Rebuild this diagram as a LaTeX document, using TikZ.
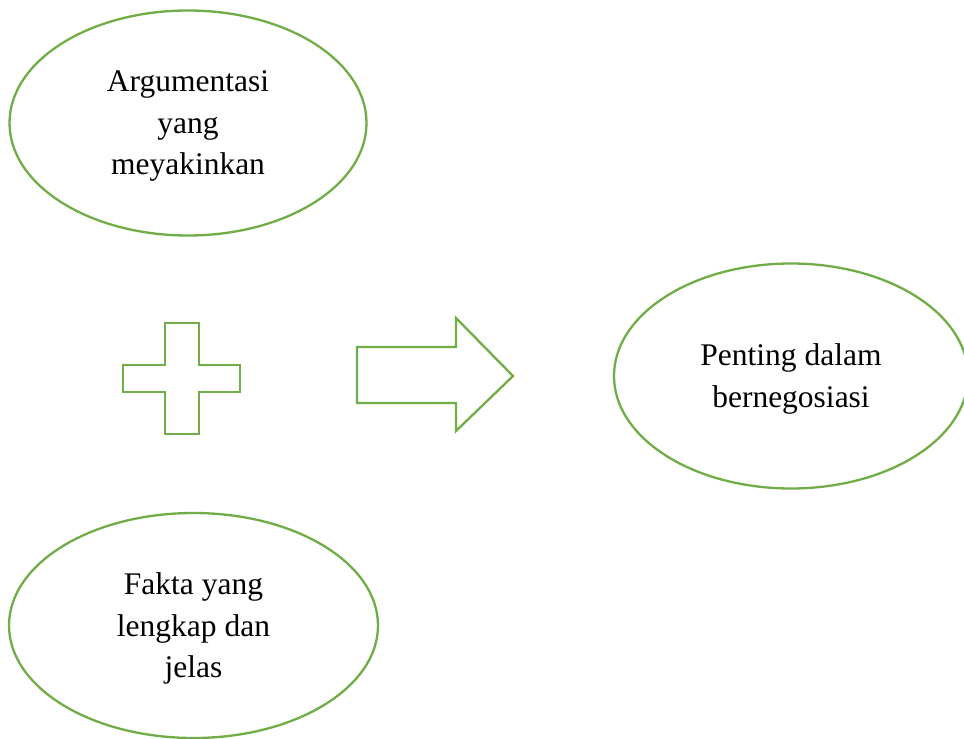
\documentclass[tikz,border=0pt]{standalone}
\usepackage{fontspec}
\setmainfont{Liberation Serif}
\usetikzlibrary{shapes.geometric}
\definecolor{offgreen}{HTML}{70AD47}
\begin{document}
\begin{tikzpicture}[x=1pt,y=-1pt,
  oval/.style={ellipse,draw=offgreen,line width=2.3pt,inner sep=0pt},
  ovaltext/.style={align=center,inner sep=0pt,yshift=-3pt,
    font=\fontsize{31.5}{41.5}\selectfont},
  symb/.style={draw=offgreen,line width=2.3pt,line join=miter}]
\useasboundingbox[fill=white] (0,0) rectangle (964,739);
\node[oval,minimum width=357pt,minimum height=225pt] (arg) at (188,123) {};
\node[ovaltext] (argt) at (arg.center) {Argumentasi\\yang\\meyakinkan};
\node[oval,minimum width=354pt,minimum height=225pt] (pent) at (791,376) {};
\node[ovaltext] (pentt) at (pent.center) {Penting dalam\\bernegosiasi};
\node[oval,minimum width=369pt,minimum height=225pt] (fakta) at (193.5,625.5) {};
\node[ovaltext] (faktat) at (fakta.center) {Fakta yang\\lengkap dan\\jelas};
% plus sign
\draw[symb] (165,323) -- (199,323) -- (199,365) -- (240,365) -- (240,392) -- (199,392)
  -- (199,434) -- (165,434) -- (165,392) -- (123,392) -- (123,365) -- (165,365) -- cycle;
% block arrow
\draw[symb] (357,347) -- (456,347) -- (456,318) -- (513,376) -- (456,431) -- (456,403)
  -- (357,403) -- cycle;
\end{tikzpicture}
\end{document}
